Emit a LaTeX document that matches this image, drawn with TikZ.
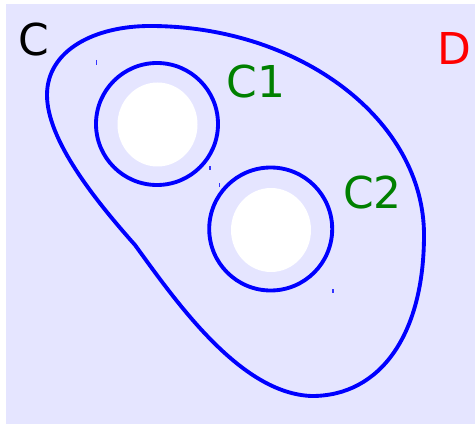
\documentclass[tikz,border=0pt]{standalone}
\usepackage{fontspec}
\setmainfont{DejaVu Sans}
\usepackage{xcolor}
\definecolor{setbg}{RGB}{229,229,255}
\definecolor{setblue}{RGB}{0,0,255}
\definecolor{setgreen}{RGB}{0,128,0}
\definecolor{setred}{RGB}{255,0,0}
\usetikzlibrary{positioning}

\tikzset{
  setline/.style={draw=setblue, line width=2.2pt},
  setlabel/.style={font=\fontsize{25}{30}\selectfont, inner sep=0pt},
  setmark/.style={draw=setblue!80, line width=0.6pt}
}

\begin{document}
\begin{tikzpicture}[x=0.02cm, y=-0.02cm]
  % Canvas
  \useasboundingbox (0,0) rectangle (475,425);
  \fill[setbg] (6,4) rectangle (475,424);

  % --- Outer set C ---
  \draw[setline] (135,245) .. controls (95,200) and (47,140) .. (47,95)
    .. controls (47,50) and (95,26) .. (150,26)
    .. controls (300,26) and (424,120) .. (424,235)
    .. controls (424,335) and (380,396) .. (312,396)
    .. controls (240,394) and (175,300) .. cycle;

  % --- Subset C1 ---
  \fill[white] (157.5,124.5) ellipse [x radius=40, y radius=42];
  \draw[setline] (157,124) circle [radius=61];

  % --- Subset C2 ---
  \fill[white] (271,230) ellipse [x radius=40, y radius=42];
  \draw[setline] (270.7,229) circle [radius=61.5];

  % Small marks
  \draw[setmark] (96.5,60) -- (96.5,65);
  \draw[setmark] (210,166.5) -- (210,170.5);
  \draw[setmark] (219.5,183) -- (219.5,187);
  \draw[setmark] (333,289) -- (333,293);

  % Labels
  \node[setlabel, black] (labC) at (33.5,40) {C};
  \node[setlabel, setgreen] (labCa) at (256,81.5) {C1};
  \node[setlabel, setgreen] (labCb) at (372.5,192.5) {C2};
  \node[setlabel, setred] (labD) at (454.5,48.5) {D};
\end{tikzpicture}
\end{document}
